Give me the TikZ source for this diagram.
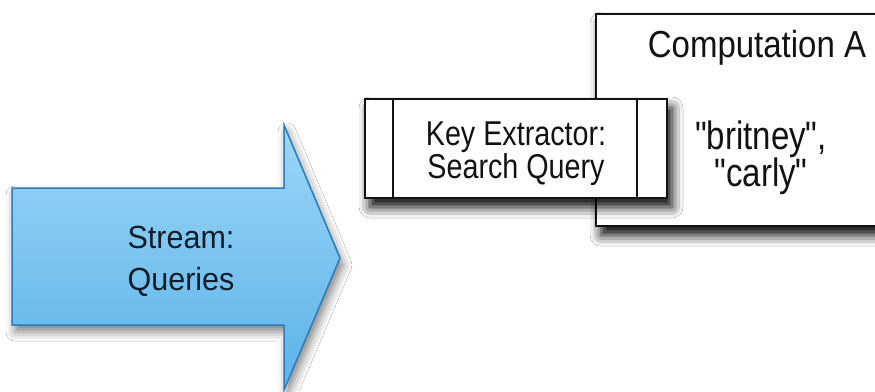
\documentclass[tikz,border=0pt]{standalone}
\usepackage{fontspec}
\setmainfont{Liberation Sans}[Ligatures=TeXOff]
\usetikzlibrary{shadows.blur}
\definecolor{arrowtop}{RGB}{155,215,248}
\definecolor{arrowbot}{RGB}{92,178,232}
\definecolor{arrowline}{RGB}{45,125,188}
\definecolor{ink}{RGB}{18,18,18}
\definecolor{arrowink}{RGB}{18,28,42}

\begin{document}
\begin{tikzpicture}[x=1pt,y=1pt,
  boxshadow/.style={blur shadow={shadow xshift=5pt, shadow yshift=-9pt,
      shadow blur radius=11pt, shadow opacity=100}},
  arrowshadow/.style={blur shadow={shadow xshift=3pt, shadow yshift=-7pt,
      shadow blur radius=9pt, shadow opacity=50}},
  panel/.style={draw=ink, line width=2.3pt, fill=white, inner sep=0pt,
      boxshadow},
  caption/.style={text=ink, align=center, inner sep=0pt},
  arrowbody/.style={draw=arrowline, line width=1.5pt, top color=arrowtop,
      bottom color=arrowbot, line join=miter, arrowshadow}
]
\useasboundingbox (0,0) rectangle (875,-391);
\fill[white] (0,0) rectangle (875,-391);

% computation box, running off the right edge
\node[panel, anchor=north west, minimum width=300, minimum height=212]
  (comp) at (595,-13) {};
\node[caption, font=\fontsize{33}{38}\selectfont, yscale=1.14]
  (comptitle) at (757,-48) {Computation A};
\node[caption, font=\fontsize{33}{31}\selectfont, yscale=1.2]
  (keys) at (761,-158) {"britney",\\"carly"};

% key extractor box with its two side bars
\node[panel, minimum width=302, minimum height=99] (keyx) at (516,-148.5) {};
\draw[ink, line width=2.3pt] ([xshift=29pt]keyx.north west) coordinate (bl1)
  -- ([xshift=29pt]keyx.south west) coordinate (bl2);
\draw[ink, line width=2.3pt] ([xshift=-31pt]keyx.north east) coordinate (br1)
  -- ([xshift=-31pt]keyx.south east) coordinate (br2);
\node[caption, font=\fontsize{28.7}{23.5}\selectfont, yscale=1.2]
  (keytext) at (516,-154) {Key Extractor:\\Search Query};

% the stream arrow
\coordinate (a1) at (12,-188);
\coordinate (a2) at (284,-188);
\coordinate (a3) at (284,-125);
\coordinate (tip) at (340,-258);
\coordinate (a5) at (284,-390);
\coordinate (a6) at (284,-325);
\coordinate (a7) at (12,-325);
\path[arrowbody] (a1) -- (a2) -- (a3) -- (tip) -- (a5) -- (a6) -- (a7) -- cycle;
\node[caption, text=arrowink, font=\fontsize{30.5}{40}\selectfont, yscale=1.05]
  (stream) at (181,-261) {Stream:\\Queries};
\end{tikzpicture}
\end{document}
